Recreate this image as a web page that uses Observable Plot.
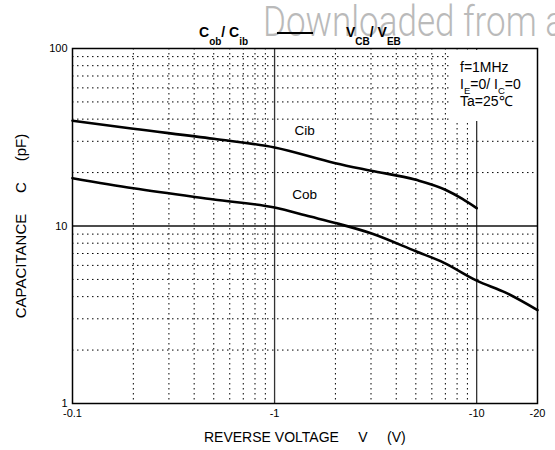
<!DOCTYPE html>
<html><head><meta charset="utf-8">
<script src="https://cdn.jsdelivr.net/npm/d3@7"></script>
<script src="https://cdn.jsdelivr.net/npm/@observablehq/plot@0.6"></script>
<style>
html,body{margin:0;padding:0;background:#fff;overflow:hidden;}
#wrap{position:relative;width:555px;height:450px;overflow:hidden;font-family:"Liberation Sans",Arial,sans-serif;color:#000;}
#wrap svg{position:absolute;left:0;top:0;}
.ov{position:absolute;white-space:pre;line-height:1;}
.wm{left:263px;top:6.5px;font-family:Roboto,sans-serif;font-weight:300;font-size:35px;color:#bababa;transform:scaleY(1.2);transform-origin:0 29.5px;}
.title{top:25px;font-weight:bold;font-size:14px;z-index:2;}
.title .s{position:relative;top:8px;font-size:10px;}
.dash{position:absolute;left:277px;top:32px;width:36px;height:1.6px;background:#000;z-index:2;}
.box{position:absolute;left:452px;top:50px;width:83px;height:71px;background:#fff;}
.note{left:460px;font-size:14px;}
.note .s{position:relative;top:5px;font-size:9.5px;}
.xl{left:204px;top:430px;font-size:14px;}
.yl{left:20px;top:226px;font-size:15px;transform:translate(-50%,-50%) rotate(-90deg);}
</style></head><body><div id="wrap"></div>
<script>
// Reverse voltage (V, magnitude) and capacitance (pF)
const cibVolts = [0.1, 0.2, 0.5, 1, 2, 3, 5, 7, 8.5, 10];
const cibCap   = [39.2, 35.3, 31.0, 27.7, 22.6, 20.5, 18.2, 16.0, 14.2, 12.6];
const cobVolts = [0.1, 0.2, 0.5, 1, 1.5, 2, 3, 5, 6.9, 10, 14, 20];
const cobCap   = [18.6, 16.3, 14.1, 12.7, 11.3, 10.4, 9.1, 7.2, 6.2, 4.92, 4.2, 3.36];

const xTicks = [0.1, 1, 10, 20];
const xTickLabels = ["-0.1", "-1", "-10", "-20"];
const yTicks = [1, 10, 100];
const yTickLabels = ["1", "10", "100"];
const xMajor = [1, 10];
const yMajor = [10];
const xMinor = [0.2, 0.3, 0.4, 0.5, 0.6, 0.7, 0.8, 0.9, 2, 3, 4, 5, 6, 7, 8, 9];
const yMinor = [2, 3, 4, 5, 6, 7, 8, 9, 20, 30, 40, 50, 60, 70, 80, 90];

const seriesNames = ["Cib", "Cob"];
const labelAtVolts = [1, 1];

const rows = [];
cibVolts.forEach((v, i) => rows.push({series: "Cib", v, c: cibCap[i]}));
cobVolts.forEach((v, i) => rows.push({series: "Cob", v, c: cobCap[i]}));
const labelRows = seriesNames.map((s, i) => rows.find(r => r.series === s && r.v === labelAtVolts[i]));

const chart = Plot.plot({
  width: 555, height: 450,
  marginLeft: 72, marginRight: 18, marginTop: 48, marginBottom: 47,
  style: {fontFamily: "'Liberation Sans', Arial, sans-serif", fontSize: "11px", background: "transparent", color: "#000"},
  x: {type: "log", domain: [0.1, 20], ticks: xTicks, tickFormat: d => xTickLabels[xTicks.indexOf(d)], tickSize: 0, tickPadding: 6, label: null},
  y: {type: "log", domain: [1, 100], ticks: yTicks, tickFormat: d => yTickLabels[yTicks.indexOf(d)], tickSize: 0, tickPadding: 5, label: null},
  marks: [
    Plot.ruleX(xMinor, {stroke: "#000", strokeWidth: 1, strokeDasharray: "1.5,3.5"}),
    Plot.ruleY(yMinor, {stroke: "#000", strokeWidth: 1, strokeDasharray: "1.5,3.5"}),
    Plot.ruleX(xMajor, {stroke: "#333", strokeWidth: 1.3}),
    Plot.ruleY(yMajor, {stroke: "#111", strokeWidth: 1.4}),
    Plot.line(rows, {x: "v", y: "c", z: "series", stroke: "#000", strokeWidth: 2.6, curve: "monotone-x"}),
    Plot.text(labelRows, {x: "v", y: "c", text: "series", dx: 30, dy: -17, fontSize: 13.5, fill: "#000"}),
    Plot.frame({stroke: "#000", strokeWidth: 1.5})
  ]
});

const wrap = document.getElementById("wrap");
wrap.innerHTML = `
<div class="ov wm">Downloaded from a</div>
<div class="ov title" style="left:199px">C<span class="s">ob</span>/ C<span class="s">ib</span></div>
<div class="dash"></div>
<div class="ov title" style="left:346px">V<span class="s">CB</span>/ V<span class="s">EB</span></div>
`;
wrap.appendChild(chart);
wrap.insertAdjacentHTML("beforeend", `
<div class="box"></div>
<div class="ov note" style="top:60px">f=1MHz</div>
<div class="ov note" style="top:76.5px">I<span class="s">E</span>=0/ I<span class="s">C</span>=0</div>
<div class="ov note" style="top:94px">Ta=25℃</div>
<div class="ov xl">REVERSE VOLTAGE     V     (V)</div>
<div class="ov yl">CAPACITANCE     C     (pF)</div>
`);
// Cob label sits a little lower relative to its curve
const texts = chart.querySelectorAll("g[aria-label='text'] text");
if (texts[1]) texts[1].setAttribute("dy", "0.32em");
</script>
</body></html>
